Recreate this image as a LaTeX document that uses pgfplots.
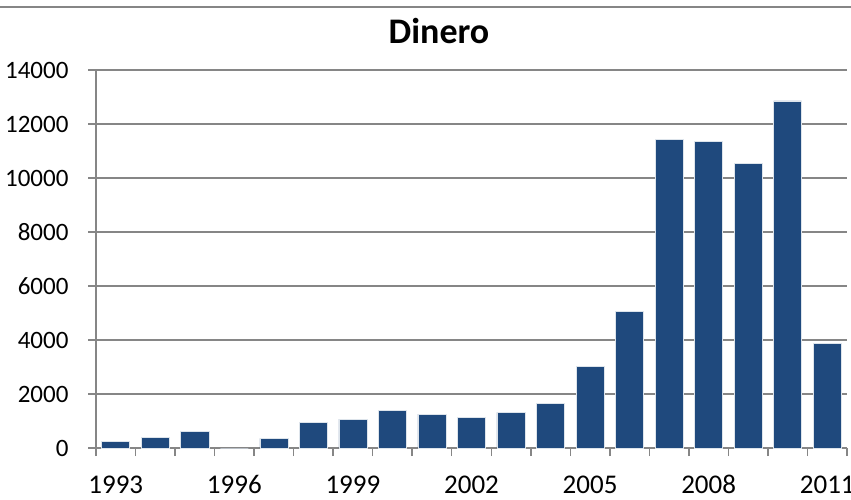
\documentclass[border=0pt]{standalone}
\usepackage{fontspec}
\setmainfont{Carlito}
\usepackage{pgfplots}
\pgfplotsset{compat=1.18}
\definecolor{barblue}{RGB}{31,73,125}
\definecolor{gridgray}{RGB}{134,134,134}

\pgfplotstableread{
x year value
0 1993 259
1 1994 396
2 1995 618
3 1996 0
4 1997 359
5 1998 951
6 1999 1074
7 2000 1407
8 2001 1259
9 2002 1136
10 2003 1321
11 2004 1654
12 2005 3025
13 2006 5074
14 2007 11444
15 2008 11370
16 2009 10544
17 2010 12852
18 2011 3889
}\dinero

\begin{document}
\begin{tikzpicture}
\useasboundingbox (-96pt,-51pt) rectangle (755pt,448pt);
\begin{axis}[
    at={(0,0)}, anchor=south west,
    scale only axis,
    width=751pt, height=378pt,
    xmin=-0.5, xmax=18.5,
    ymin=0, ymax=14000,
    axis x line=bottom, axis y line=left,
    axis line style={gridgray, line width=1.5pt, -},
    xtick={0,3,...,18},
    xticklabels={1993,1996,1999,2002,2005,2008,2011},
    minor xtick={-0.5,0.5,...,18.5},
    major x tick style={draw=none},
    minor x tick style={gridgray, line width=1.5pt},
    minor tick length=8pt,
    ytick={0,2000,...,14000},
    y tick style={gridgray, line width=1.5pt},
    major tick length=8pt,
    tick align=outside,
    ymajorgrids,
    major grid style={gridgray, line width=1.5pt},
    scaled y ticks=false,
    /pgf/number format/assume math mode=true,
    /pgf/number format/1000 sep={},
    yticklabel style={font=\fontsize{25}{30}\selectfont, xshift=-16pt},
    xticklabel style={font=\fontsize{27}{32}\selectfont, anchor=base, yshift=-37pt},
    title={\textbf{Dinero}},
    title style={font=\fontsize{36}{42}\selectfont, at={(axis description cs:0.4567,1.053)}, anchor=base},
]
\addplot[ybar, bar width=0.71, fill=barblue, draw=white!85!barblue, line width=0.6pt]
    table[x=x, y=value] {\dinero};
\end{axis}
\draw[gridgray, line width=1.5pt] (-96pt,441pt) -- (755pt,441pt);
\end{tikzpicture}
\end{document}
